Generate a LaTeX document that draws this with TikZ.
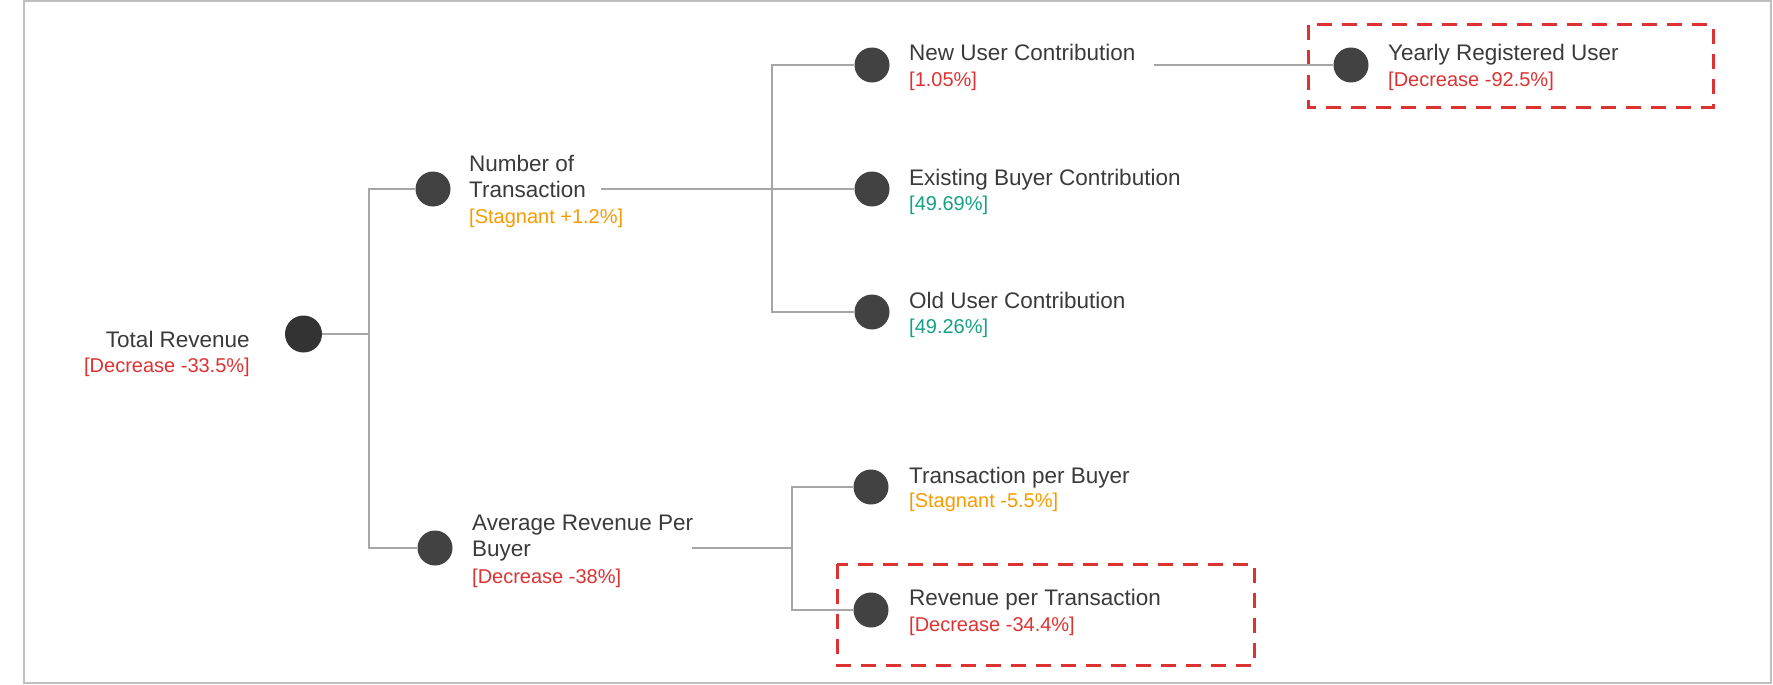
\documentclass[tikz,border=0pt]{standalone}
\usepackage{fontspec}
\setmainfont{Liberation Sans}
\definecolor{txt}{HTML}{3A3A3A}
\definecolor{dotc}{HTML}{424242}
\definecolor{dotroot}{HTML}{333333}
\definecolor{linec}{HTML}{A6A6A6}
\definecolor{borderc}{HTML}{BFBFBF}
\definecolor{redc}{HTML}{DC3232}
\definecolor{orangec}{HTML}{F79A00}
\definecolor{tealc}{HTML}{16A085}
\begin{document}
\begin{tikzpicture}[x=1pt,y=-1pt,
  dotnode/.style={circle, fill=dotc, inner sep=0pt, minimum size=35pt},
  title/.style={anchor=base west, inner sep=0pt, text=txt, font=\fontsize{22.5}{26.5}\selectfont},
  val/.style={anchor=base west, inner sep=0pt, font=\fontsize{20}{24}\selectfont},
  link/.style={draw=linec, line width=2pt},
  hl/.style={draw=redc, line width=3pt, dash pattern=on 15pt off 10pt},
  frame/.style={draw=borderc, line width=2.5pt}]
\useasboundingbox (0,0) rectangle (1773,685);
\draw[frame] (24,1) rectangle (1771,683);

% highlight boxes
\draw[hl] (1308,25) rectangle (1713,107);
\draw[hl] (837,564) rectangle (1254,665);

% root
\node[dotnode, fill=dotroot, minimum size=37pt] (tr) at (303.5,334) {};
\node[title, anchor=base east] (trt) at (250,347) {Total Revenue};
\node[val, anchor=base east, text=redc] (trv) at (250,372) {[Decrease -33.5\%]};

% level 1
\node[dotnode] (nt) at (433,189) {};
\node[title] (ntt) at (469,171) {\begin{tabular}[t]{@{}l@{}}Number of\\Transaction\end{tabular}};
\node[val, text=orangec] (ntv) at (469,223) {[Stagnant +1.2\%]};

\node[dotnode] (ar) at (435,548) {};
\node[title] (art) at (472,530) {\begin{tabular}[t]{@{}l@{}}Average Revenue Per\\Buyer\end{tabular}};
\node[val, text=redc] (arv) at (472,583) {[Decrease -38\%]};

% level 2 (transactions)
\node[dotnode] (nu) at (872,65) {};
\node[title] (nut) at (909,61) {New User Contribution};
\node[val, text=redc] (nuv) at (909,86) {[1.05\%]};

\node[dotnode] (eb) at (872,189) {};
\node[title] (ebt) at (909,185) {Existing Buyer Contribution};
\node[val, text=tealc] (ebv) at (909,210) {[49.69\%]};

\node[dotnode] (ou) at (872,312) {};
\node[title] (out) at (909,308) {Old User Contribution};
\node[val, text=tealc] (ouv) at (909,333) {[49.26\%]};

% level 3
\node[dotnode] (yr) at (1351,65) {};
\node[title] (yrt) at (1388,61) {Yearly Registered User};
\node[val, text=redc] (yrv) at (1388,86) {[Decrease -92.5\%]};

% level 2 (revenue per buyer)
\node[dotnode] (tb) at (871,487) {};
\node[title] (tbt) at (909,483) {Transaction per Buyer};
\node[val, text=orangec] (tbv) at (909,507) {[Stagnant -5.5\%]};

\node[dotnode] (rt) at (871,610) {};
\node[title] (rtt) at (909,605) {Revenue per Transaction};
\node[val, text=redc] (rtv) at (909,631) {[Decrease -34.4\%]};

% junctions
\coordinate (j1) at (369,334);
\coordinate (ntout) at (601,189);
\coordinate (j2) at (772,189);
\coordinate (nuout) at (1154,65);
\coordinate (arout) at (692,548);
\coordinate (j3) at (792,548);

% connectors
\draw[link] (tr) -- (j1);
\draw[link] (j1) |- (nt);
\draw[link] (j1) |- (ar);
\draw[link] (ntout) -- (j2);
\draw[link] (j2) |- (nu);
\draw[link] (j2) -- (eb);
\draw[link] (j2) |- (ou);
\draw[link] (nuout) -- (yr);
\draw[link] (arout) -- (j3);
\draw[link] (j3) |- (tb);
\draw[link] (j3) |- (rt);
\end{tikzpicture}
\end{document}
